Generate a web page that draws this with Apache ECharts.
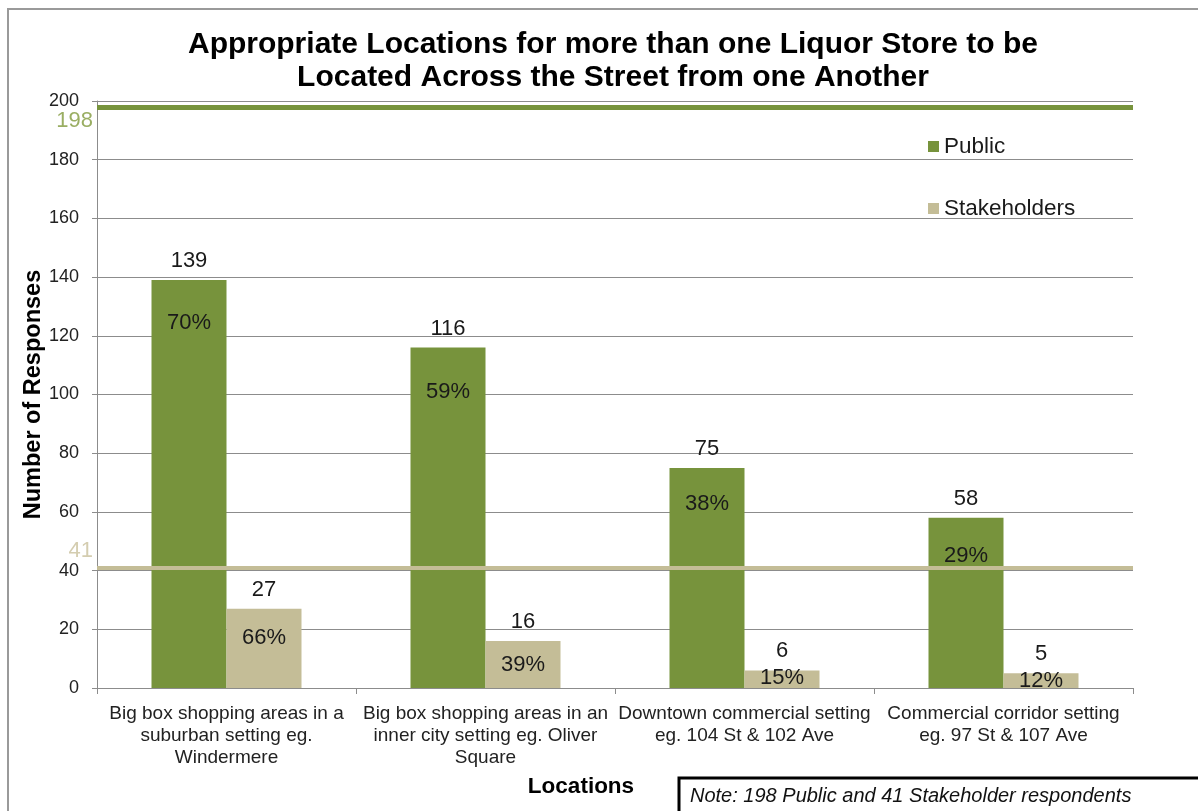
<!DOCTYPE html>
<html>
<head>
<meta charset="utf-8">
<script src="https://cdn.jsdelivr.net/npm/echarts@6/dist/echarts.min.js"></script>
<style>
  html, body { margin: 0; padding: 0; background: #fff; }
  #chart { width: 1198px; height: 811px; }
</style>
</head>
<body>
<div id="chart"></div>
<script>
// Survey responses: where more than one liquor store may sit across the street from another
const categories = [
  'Big box shopping areas in a\nsuburban setting eg.\nWindermere',
  'Big box shopping areas in an\ninner city setting eg. Oliver\nSquare',
  'Downtown commercial setting\neg. 104 St & 102 Ave',
  'Commercial corridor setting\neg. 97 St & 107 Ave'
];
const publicCounts = [139, 116, 75, 58];
const stakeholderCounts = [27, 16, 6, 5];
const publicTotal = 198;
const stakeholderTotal = 41;
const yTicks = { min: 0, max: 200, interval: 20 };

const GREEN = '#77933C';
const TAN = '#C4BD97';
const FONT = '"Liberation Sans", Arial, sans-serif';

// distance of each percentage label below its bar top
const pctGap = [[32, 33, 25, 27], [18, 13, -3, -3]];

function pct(v, total) { return Math.round(v / total * 100) + '%'; }

function pctSeries(values, total, gaps) {
  return {
    type: 'bar',
    xAxisIndex: 1,
    barWidth: 75,
    barGap: 0,
    silent: true,
    itemStyle: { color: 'rgba(0,0,0,0)' },
    data: values.map((v, i) => ({
      value: v,
      label: { distance: gaps[i] }
    })),
    label: {
      show: true,
      position: 'insideTop',
      formatter: p => pct(p.value, total),
      fontFamily: FONT,
      fontSize: 22,
      color: '#1a1a1a'
    },
    z: 5
  };
}

const chart = echarts.init(document.getElementById('chart'), null, { renderer: 'canvas' });

const countLabel = {
  show: true,
  position: 'top',
  distance: 8,
  fontFamily: FONT,
  fontSize: 22,
  color: '#1a1a1a'
};

chart.setOption({
  animation: false,
  backgroundColor: '#fff',
  textStyle: { fontFamily: FONT },
  title: {
    text: 'Appropriate Locations for more than one Liquor Store to be\nLocated Across the Street from one Another',
    left: 608,
    top: 23,
    textAlign: 'center',
    textStyle: {
      fontFamily: FONT,
      fontSize: 30,
      fontWeight: 'bold',
      lineHeight: 33,
      color: '#000'
    }
  },
  legend: {
    data: ['Public', 'Stakeholders'],
    orient: 'vertical',
    left: 923,
    top: 130,
    icon: 'rect',
    itemWidth: 11,
    itemHeight: 11,
    itemGap: 39,
    selectedMode: false,
    textStyle: { fontFamily: FONT, fontSize: 22.5, color: '#1a1a1a' }
  },
  grid: { left: 97, right: 65, top: 101, bottom: 123, containLabel: false },
  xAxis: [
    {
      type: 'category',
      data: categories,
      axisLine: { lineStyle: { color: '#8c8c8c', width: 1 } },
      axisTick: { show: true, length: 6, alignWithLabel: false, lineStyle: { color: '#8c8c8c' } },
      axisLabel: {
        interval: 0,
        margin: 15,
        fontFamily: FONT,
        fontSize: 19,
        lineHeight: 22,
        color: '#222'
      }
    },
    {
      type: 'category',
      data: categories,
      show: false
    }
  ],
  yAxis: {
    type: 'value',
    min: yTicks.min,
    max: yTicks.max,
    interval: yTicks.interval,
    name: 'Number of Responses',
    nameLocation: 'middle',
    nameGap: 51,
    nameMoveOverlap: false,
    nameTextStyle: { fontFamily: FONT, fontSize: 23.5, fontWeight: 'bold', color: '#000' },
    axisLine: { show: true, lineStyle: { color: '#8c8c8c' } },
    axisTick: { show: true, length: 5, lineStyle: { color: '#8c8c8c' } },
    axisLabel: { margin: 18, fontFamily: FONT, fontSize: 18, color: '#222' },
    splitLine: { show: true, lineStyle: { color: '#8c8c8c', width: 1 } }
  },
  series: [
    {
      name: 'Public',
      type: 'bar',
      barWidth: 75,
      barGap: 0,
      itemStyle: { color: GREEN },
      label: countLabel,
      data: publicCounts,
      markLine: {
        silent: true,
        symbol: 'none',
        lineStyle: { color: GREEN, width: 5, type: 'solid' },
        label: {
          position: 'start',
          distance: 4,
          offset: [0, 14],
          formatter: String(publicTotal),
          fontFamily: FONT,
          fontSize: 22,
          color: '#9aae63'
        },
        data: [{ yAxis: publicTotal }]
      },
      z: 3
    },
    {
      name: 'Stakeholders',
      type: 'bar',
      barWidth: 75,
      barGap: 0,
      itemStyle: { color: TAN },
      label: countLabel,
      data: stakeholderCounts,
      markLine: {
        silent: true,
        symbol: 'none',
        lineStyle: { color: TAN, width: 4, type: 'solid' },
        label: {
          position: 'start',
          distance: 4,
          offset: [0, -17],
          formatter: String(stakeholderTotal),
          fontFamily: FONT,
          fontSize: 22,
          color: '#d4cdb0'
        },
        data: [{ yAxis: stakeholderTotal }]
      },
      z: 3
    },
    pctSeries(publicCounts, publicTotal, pctGap[0]),
    pctSeries(stakeholderCounts, stakeholderTotal, pctGap[1])
  ],
  graphic: [
    {
      type: 'rect',
      shape: { x: 8, y: 9, width: 1400, height: 1000 },
      style: { fill: null, stroke: '#9a9a9a', lineWidth: 2 },
      silent: true,
      z: -10
    },
    {
      type: 'text',
      x: 581,
      y: 787,
      style: {
        text: 'Locations',
        fontFamily: FONT,
        fontSize: 22.5,
        fontWeight: 'bold',
        fill: '#000',
        align: 'center',
        verticalAlign: 'middle'
      }
    },
    {
      type: 'rect',
      shape: { x: 679, y: 778, width: 700, height: 200 },
      style: { fill: '#fff', stroke: '#000', lineWidth: 3 },
      silent: true
    },
    {
      type: 'text',
      x: 690,
      y: 796,
      style: {
        text: 'Note: 198 Public and 41 Stakeholder respondents',
        fontFamily: FONT,
        fontSize: 20,
        fontStyle: 'italic',
        fill: '#111',
        verticalAlign: 'middle'
      }
    }
  ]
});
</script>
</body>
</html>
